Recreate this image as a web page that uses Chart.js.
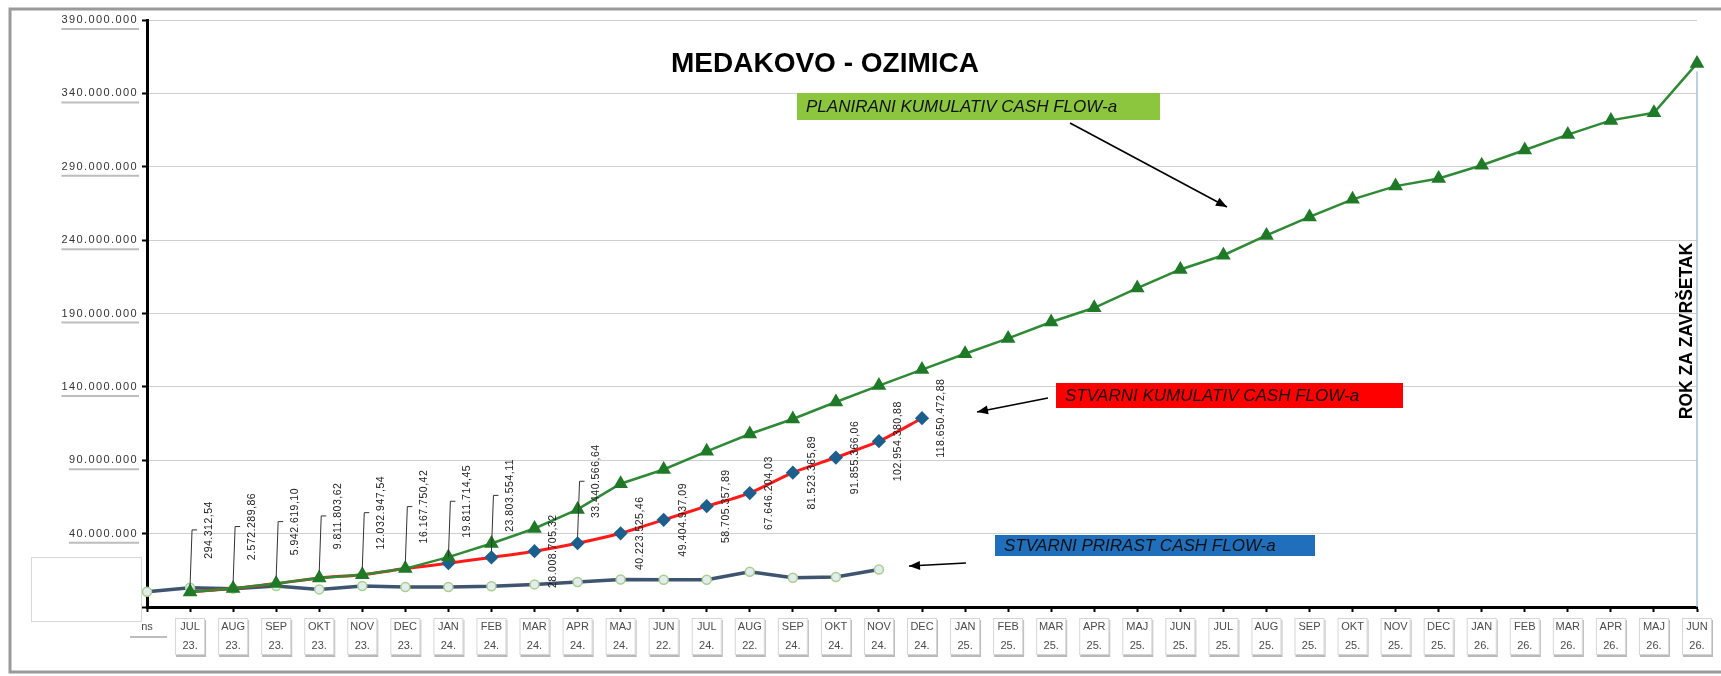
<!DOCTYPE html>
<html>
<head>
<meta charset="utf-8">
<script src="https://cdn.jsdelivr.net/npm/chart.js@4.4.0/dist/chart.umd.min.js"></script>
<style>
  html, body { margin: 0; padding: 0; background: #fff; }
  #wrap { position: relative; width: 1721px; height: 676px; }
</style>
</head>
<body>
<div id="wrap"><canvas id="cashFlowChart"></canvas></div>
<script>
// months on the x axis (two-line labels: month / year)
const categories = ['ns', 'JUL 23.', 'AUG 23.', 'SEP 23.', 'OKT 23.', 'NOV 23.', 'DEC 23.',
  'JAN 24.', 'FEB 24.', 'MAR 24.', 'APR 24.', 'MAJ 24.', 'JUN 22.', 'JUL 24.', 'AUG 22.',
  'SEP 24.', 'OKT 24.', 'NOV 24.', 'DEC 24.', 'JAN 25.', 'FEB 25.', 'MAR 25.', 'APR 25.',
  'MAJ 25.', 'JUN 25.', 'JUL 25.', 'AUG 25.', 'SEP 25.', 'OKT 25.', 'NOV 25.', 'DEC 25.',
  'JAN 26.', 'FEB 26.', 'MAR 26.', 'APR 26.', 'MAJ 26.', 'JUN 26.'];

// PLANIRANI KUMULATIV CASH FLOW-a (green)
const plannedCumulative = [null, 294312.54, 2572289.86, 5942619.10, 9811803.62, 12032947.54, 16167750.42,
  24000000, 33300000, 43500000, 56500000, 74000000, 83700000, 96100000, 107900000,
  118100000, 129700000, 140900000, 151800000, 162600000, 173000000, 184200000, 193900000,
  207300000, 220000000, 229700000, 243200000, 255800000, 267800000, 276800000, 282000000,
  291000000, 301400000, 311900000, 321600000, 326800000, 360400000];

// STVARNI KUMULATIV CASH FLOW-a (red)
const actualCumulative = [null, 294312.54, 2572289.86, 5942619.10, 9811803.62, 12032947.54, 16167750.42,
  19811714.45, 23803554.11, 28008705.32, 33440566.64, 40223525.46, 49404937.09, 58705357.89,
  67646204.03, 81523365.89, 91855366.06, 102954380.88, 118650472.88];

// STVARNI PRIRAST CASH FLOW-a (dark blue)
const actualIncrement = [400000, 3100000, 2500000, 4300000, 2000000, 4300000, 3600000, 3600000,
  4100000, 5400000, 7000000, 8700000, 8600000, 8600000, 14000000, 9900000, 10400000, 15600000];

const yMin = -10000000;
const yMax = 390000000;
const yStep = 50000000;

// data labels that were dragged up with a leader line in the original
const liftedLabels = [1, 2, 3, 4, 5, 6, 7, 8, 10];

const FONT = '"Liberation Sans", Arial, sans-serif';

function fmtNum(v, decimals) {
  const neg = v < 0;
  const parts = Math.abs(v).toFixed(decimals).split('.');
  const intPart = parts[0].replace(/\B(?=(\d{3})+(?!\d))/g, '.');
  return (neg ? '-' : '') + intPart + (decimals ? ',' + parts[1] : '');
}

function arrow(ctx, x1, y1, x2, y2) {
  ctx.beginPath();
  ctx.moveTo(x1, y1);
  ctx.lineTo(x2, y2);
  ctx.stroke();
  const a = Math.atan2(y2 - y1, x2 - x1), L = 11, W = 4.5;
  ctx.beginPath();
  ctx.moveTo(x2, y2);
  ctx.lineTo(x2 - L * Math.cos(a) + W * Math.sin(a), y2 - L * Math.sin(a) - W * Math.cos(a));
  ctx.lineTo(x2 - L * Math.cos(a) - W * Math.sin(a), y2 - L * Math.sin(a) + W * Math.cos(a));
  ctx.closePath();
  ctx.fill();
}

function noteBox(ctx, x, y, w, h, color, text) {
  ctx.fillStyle = color;
  ctx.fillRect(x, y, w, h);
  ctx.fillStyle = '#111';
  ctx.font = 'italic 17px ' + FONT;
  ctx.textAlign = 'left';
  ctx.textBaseline = 'middle';
  ctx.fillText(text, x + 9, y + h / 2 + 1);
}

const decorations = {
  id: 'decorations',
  beforeDraw(chart) {
    const ctx = chart.ctx;
    const x = chart.scales.x;
    ctx.save();
    // outer frame
    ctx.strokeStyle = '#9a9a9a';
    ctx.lineWidth = 3;
    ctx.strokeRect(10, 9, 1730, 663);
    // little boxes behind the month labels
    for (let i = 1; i < categories.length; i++) {
      const px = x.getPixelForTick(i);
      ctx.fillStyle = '#b9b9b9';
      ctx.fillRect(px - 14, 620, 30, 37);
      ctx.fillStyle = '#fff';
      ctx.fillRect(px - 15, 618, 30, 37);
      ctx.strokeStyle = '#d6d6d6';
      ctx.lineWidth = 1;
      ctx.strokeRect(px - 14.5, 618.5, 29, 36);
    }
    ctx.restore();
    // y value labels are widely spaced in the original
    ctx.letterSpacing = '1.4px';
  },
  beforeDatasetsDraw(chart) {
    chart.ctx.letterSpacing = '0px';
  },
  afterDatasetsDraw(chart) {
    const ctx = chart.ctx;
    const meta = chart.getDatasetMeta(1);
    ctx.save();
    ctx.font = '10.5px ' + FONT;
    ctx.letterSpacing = '0.5px';
    ctx.fillStyle = '#1a1a1a';
    ctx.strokeStyle = '#333';
    ctx.lineWidth = 1;
    meta.data.forEach((pt, i) => {
      const v = actualCumulative[i];
      if (v == null) return;
      const lifted = liftedLabels.includes(i);
      const ly = lifted ? pt.y - 62 : pt.y;
      if (lifted) {
        ctx.beginPath();
        ctx.moveTo(pt.x, pt.y - 6);
        ctx.lineTo(pt.x + 2, ly);
        ctx.lineTo(pt.x + 7, ly);
        ctx.stroke();
      }
      ctx.save();
      ctx.translate(pt.x + 19, ly);
      ctx.rotate(-Math.PI / 2);
      ctx.textAlign = 'center';
      ctx.textBaseline = 'middle';
      ctx.fillText(fmtNum(v, 2), 0, 0);
      ctx.restore();
    });
    ctx.restore();
  },
  afterDraw(chart) {
    const ctx = chart.ctx;
    const x = chart.scales.x;
    const y = chart.scales.y;
    ctx.save();

    // grey "shadow" under the value labels of the y axis
    ctx.font = '11px ' + FONT;
    ctx.letterSpacing = '1.4px';
    ctx.strokeStyle = '#bdbdbd';
    ctx.lineWidth = 2;
    y.ticks.forEach((t, i) => {
      const py = y.getPixelForTick(i);
      const w = ctx.measureText(fmtNum(t.value, 0)).width;
      ctx.beginPath();
      ctx.moveTo(138 - w, py + 9);
      ctx.lineTo(139, py + 9);
      ctx.stroke();
    });
    ctx.letterSpacing = '0px';

    // underline below "ns"
    ctx.beginPath();
    ctx.moveTo(130, 637);
    ctx.lineTo(167, 637);
    ctx.stroke();

    // empty box in the lower left corner
    ctx.fillStyle = '#fff';
    ctx.fillRect(31, 557, 110, 64);
    ctx.strokeStyle = '#d8d8d8';
    ctx.lineWidth = 1;
    ctx.strokeRect(31.5, 557.5, 110, 64);

    // title
    ctx.fillStyle = '#000';
    ctx.font = 'bold 28px ' + FONT;
    ctx.textAlign = 'center';
    ctx.textBaseline = 'middle';
    ctx.fillText('MEDAKOVO - OZIMICA', 825, 64);

    // series notes with arrows
    noteBox(ctx, 797, 93, 363, 27, '#8cc63f', 'PLANIRANI KUMULATIV CASH FLOW-a');
    noteBox(ctx, 1056, 383, 347, 25, '#ff0000', 'STVARNI KUMULATIV CASH FLOW-a');
    noteBox(ctx, 995, 535, 320, 21, '#1f6fbd', 'STVARNI PRIRAST CASH FLOW-a');
    ctx.strokeStyle = '#000';
    ctx.fillStyle = '#000';
    ctx.lineWidth = 1.6;
    arrow(ctx, 1070, 123, 1227, 207);
    arrow(ctx, 1048, 398, 977, 412);
    arrow(ctx, 966, 563, 909, 566);

    // deadline marker at the last month
    const last = categories.length - 1;
    const lx = x.getPixelForTick(last);
    const ly = y.getPixelForValue(plannedCumulative[last]);
    ctx.strokeStyle = '#9fc3de';
    ctx.lineWidth = 1.5;
    ctx.beginPath();
    ctx.moveTo(lx, ly + 8);
    ctx.lineTo(lx, y.getPixelForValue(yMin));
    ctx.stroke();
    ctx.save();
    ctx.translate(lx - 10, 331);
    ctx.rotate(-Math.PI / 2);
    ctx.fillStyle = '#000';
    ctx.font = 'bold 17.5px ' + FONT;
    ctx.textAlign = 'center';
    ctx.textBaseline = 'middle';
    ctx.fillText('ROK ZA ZAVRŠETAK', 0, 0);
    ctx.restore();
    ctx.restore();
  }
};

const ctx = document.getElementById('cashFlowChart').getContext('2d');
new Chart(ctx, {
  type: 'line',
  data: {
    labels: categories,
    datasets: [
      {
        label: 'PLANIRANI KUMULATIV CASH FLOW-a',
        data: plannedCumulative,
        borderColor: '#2f8a36',
        backgroundColor: '#1f7a28',
        borderWidth: 2.5,
        pointStyle: 'triangle',
        pointRadius: 6,
        pointBackgroundColor: '#1f7a28',
        pointBorderColor: '#1f7a28',
        tension: 0,
        order: 0
      },
      {
        label: 'STVARNI KUMULATIV CASH FLOW-a',
        data: actualCumulative,
        borderColor: '#ff1a1a',
        backgroundColor: '#1d5f8c',
        borderWidth: 3,
        pointStyle: 'rectRot',
        pointRadius: (c) => c.dataIndex < 7 ? 0 : 5,
        pointBackgroundColor: '#1d5f8c',
        pointBorderColor: '#1d5f8c',
        tension: 0.25,
        order: 1
      },
      {
        label: 'STVARNI PRIRAST CASH FLOW-a',
        data: actualIncrement,
        borderColor: '#3e5470',
        backgroundColor: '#e3ebf0',
        borderWidth: 3.5,
        pointStyle: 'circle',
        pointRadius: 4.5,
        pointBackgroundColor: '#e3ebf0',
        pointBorderColor: '#a6d18a',
        pointBorderWidth: 1.5,
        tension: 0,
        order: 2
      }
    ]
  },
  options: {
    responsive: true,
    maintainAspectRatio: false,
    animation: false,
    events: [],
    layout: {
      padding: { top: 20, right: 24, bottom: 0, left: 0 }
    },
    scales: {
      x: {
        offset: false,
        afterFit: (scale) => { scale.height = 69; },
        grid: {
          drawOnChartArea: false,
          drawTicks: true,
          tickLength: 5,
          tickColor: '#000',
          tickWidth: 2
        },
        border: { color: '#000', width: 3 },
        ticks: {
          z: 1,
          autoSkip: false,
          maxRotation: 0,
          padding: 6,
          color: '#4a4a4a',
          font: { family: FONT, size: 11, lineHeight: 1.7 },
          callback: function(value, index) {
            return categories[index].split(' ');
          }
        }
      },
      y: {
        min: yMin,
        max: yMax,
        afterFit: (scale) => { scale.width = 147; },
        grid: {
          color: '#cfcfcf',
          lineWidth: 1,
          tickLength: 5,
          tickColor: '#000',
          tickWidth: 2
        },
        border: { color: '#000', width: 3 },
        ticks: {
          stepSize: yStep,
          padding: 4,
          color: '#333',
          font: { family: FONT, size: 11 },
          callback: function(value) {
            return fmtNum(value, 0);
          }
        }
      }
    },
    plugins: {
      legend: { display: false },
      tooltip: { enabled: false }
    }
  },
  plugins: [decorations]
});
</script>
</body>
</html>
